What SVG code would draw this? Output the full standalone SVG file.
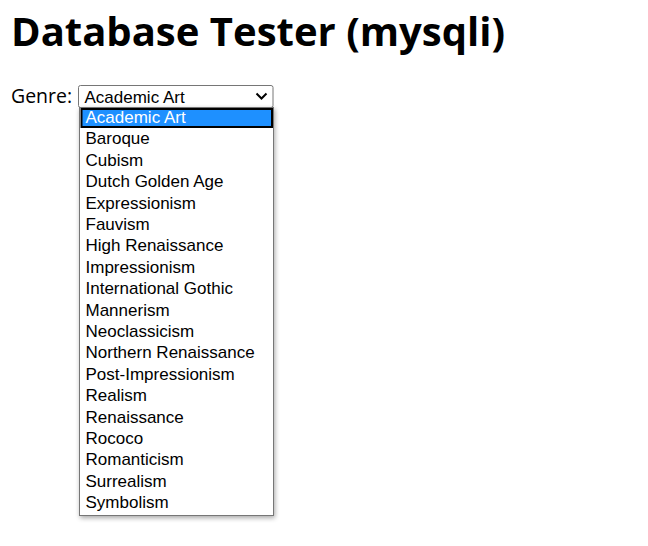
<svg xmlns="http://www.w3.org/2000/svg" width="648" height="546" viewBox="0 0 648 546">
<defs>
<style>
.opt{font-family:"Liberation Sans",Arial,sans-serif;font-size:17px;fill:#000}
.sel{fill:#fff}
</style>
<filter id="sh" x="-10%" y="-5%" width="125%" height="112%">
<feGaussianBlur in="SourceAlpha" stdDeviation="2.5"/>
<feOffset dx="1" dy="2"/>
<feComponentTransfer><feFuncA type="linear" slope="0.35"/></feComponentTransfer>
<feMerge><feMergeNode/><feMergeNode in="SourceGraphic"/></feMerge>
</filter>
</defs>
<rect width="648" height="546" fill="#fff"/>
<g id="title">
<text x="11" y="45.5" font-family="'Open Sans','Noto Sans',sans-serif" font-weight="bold" font-size="40" textLength="494" lengthAdjust="spacingAndGlyphs">Database Tester (mysqli)</text>
</g>
<g id="label">
<text x="11" y="102.5" font-family="'Open Sans','Noto Sans',sans-serif" font-size="20" textLength="61" lengthAdjust="spacingAndGlyphs">Genre:</text>
</g>
<g id="select">
<rect x="78.5" y="85.5" width="194.5" height="22" rx="2" fill="#fff" stroke="#767676"/>
<text class="opt" x="84.5" y="102.5">Academic Art</text>
<polyline points="256.5,93.5 261.5,98.5 266.5,93.5" fill="none" stroke="#000" stroke-width="2"/>
</g>
<g id="dropdown">
<rect x="79.5" y="107.5" width="194" height="408" fill="#fff" stroke="#767676" filter="url(#sh)"/>
<rect x="81.5" y="109" width="190.5" height="18" fill="#1E90FF" stroke="#000" stroke-width="2"/>
<g transform="translate(-0.5,1)">
<text class="opt sel" x="86" y="122">Academic Art</text>
<text class="opt" x="86" y="143.4">Baroque</text>
<text class="opt" x="86" y="164.8">Cubism</text>
<text class="opt" x="86" y="186.2">Dutch Golden Age</text>
<text class="opt" x="86" y="207.6">Expressionism</text>
<text class="opt" x="86" y="228.9">Fauvism</text>
<text class="opt" x="86" y="250.3">High Renaissance</text>
<text class="opt" x="86" y="271.7">Impressionism</text>
<text class="opt" x="86" y="293.1">International Gothic</text>
<text class="opt" x="86" y="314.5">Mannerism</text>
<text class="opt" x="86" y="335.9">Neoclassicism</text>
<text class="opt" x="86" y="357.3">Northern Renaissance</text>
<text class="opt" x="86" y="378.7">Post-Impressionism</text>
<text class="opt" x="86" y="400.1">Realism</text>
<text class="opt" x="86" y="421.5">Renaissance</text>
<text class="opt" x="86" y="442.9">Rococo</text>
<text class="opt" x="86" y="464.2">Romanticism</text>
<text class="opt" x="86" y="485.6">Surrealism</text>
<text class="opt" x="86" y="507">Symbolism</text>
</g>
</g>
</svg>
